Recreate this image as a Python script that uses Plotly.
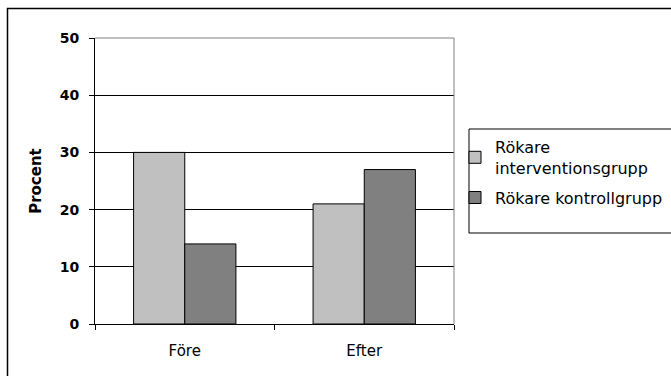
import plotly.graph_objects as go

categories = ["Före", "Efter"]
intervention = [30, 21]
kontroll = [14, 27]
series_names = ["Rökare<br>interventionsgrupp", "Rökare kontrollgrupp"]
y_ticks = [0, 10, 20, 30, 40, 50]

FONT = "DejaVu Sans"

fig = go.Figure()
fig.add_trace(go.Bar(x=categories, y=intervention, name=series_names[0], legendgroup="g1",
                     marker=dict(color="#C0C0C0", line=dict(color="black", width=1))))
fig.add_trace(go.Bar(x=categories, y=kontroll, name=series_names[1], legendgroup="g2",
                     marker=dict(color="#808080", line=dict(color="black", width=1))))

W, H = 671, 376
L, R, T, B = 95, 454, 38, 324
pw, ph = R - L, B - T

def px(x):
    return (x - L) / pw

def py(y):
    return (B - y) / ph

fig.update_layout(
    width=W, height=H,
    margin=dict(l=L, r=W - R, t=T, b=H - B, pad=0, autoexpand=False),
    paper_bgcolor="white", plot_bgcolor="white",
    barmode="group", bargap=0.43, bargroupgap=0,
    font=dict(family=FONT, color="black", size=14),
    showlegend=True,
    legend=dict(x=px(455), y=py(130), xanchor="left", yanchor="top",
                bgcolor="rgba(0,0,0,0)", borderwidth=0,
                font=dict(family=FONT, size=16, color="black"),
                tracegroupgap=6, itemwidth=30),
    xaxis=dict(showline=True, linecolor="black", linewidth=1,
               ticks="outside", ticklen=5, tickcolor="black",
               tickson="boundaries", showgrid=False,
               tickfont=dict(family=FONT, size=15, color="black"),
               ticklabelstandoff=13, mirror=False),
    yaxis=dict(range=[0, 50], tickvals=y_ticks, showline=True, linecolor="black",
               linewidth=1, ticks="outside", ticklen=5, tickcolor="black",
               showgrid=True, gridcolor="black", gridwidth=1, zeroline=False,
               tickfont=dict(family=FONT, size=14, color="black", weight="bold"),
               ticklabelstandoff=7,
               title=dict(text="<b>Procent</b>", font=dict(family=FONT, size=15, color="black"),
                          standoff=14)),
    shapes=[
        dict(type="line", xref="paper", yref="paper", x0=0, x1=1, y0=1, y1=1,
             line=dict(color="#808080", width=1)),
        dict(type="line", xref="paper", yref="paper", x0=1, x1=1, y0=0, y1=1,
             line=dict(color="#808080", width=1)),
        dict(type="rect", xref="paper", yref="paper", x0=px(7.5), x1=px(700),
             y0=py(400), y1=py(8.5), line=dict(color="black", width=1.5), layer="below"),
        dict(type="rect", xref="paper", yref="paper", x0=px(469), x1=px(700),
             y0=py(233), y1=py(129), line=dict(color="black", width=1)),
    ],
)

fig.write_html("out.html", config={"displayModeBar": False},
               post_script="document.body.style.margin='0';document.body.style.overflow='hidden';")
